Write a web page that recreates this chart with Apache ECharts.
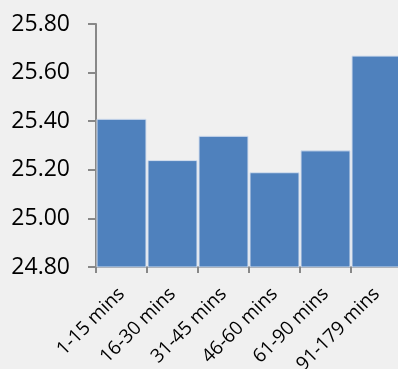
<!DOCTYPE html>
<html><head><meta charset="utf-8">
<script src="https://cdn.jsdelivr.net/npm/echarts@6/dist/echarts.min.js"></script>
<style>html,body{margin:0;padding:0;background:#f0f0f0;}#c{width:398px;height:369px;}</style>
</head><body><div id="c"></div>
<script>
var categories = ["1-15 mins","16-30 mins","31-45 mins","46-60 mins","61-90 mins","91-179 mins"];
var values = [25.41, 25.24, 25.34, 25.19, 25.28, 25.67];
var yMin = 24.8, yMax = 25.8, yStep = 0.2;

var chart = echarts.init(document.getElementById('c'), null, {renderer:'canvas'});
chart.setOption({
  backgroundColor: '#f0f0f0',
  animation: false,
  grid: {left: 96, top: 24, width: 306, height: 243, containLabel: false, outerBoundsMode: 'none'},
  xAxis: {
    type: 'category', data: categories,
    axisLine: {lineStyle: {color: '#888888', width: 2}},
    axisTick: {show: true, length: 6, lineStyle: {color: '#888888', width: 2}},
    axisLabel: {rotate: 45, margin: 24, color: '#000', fontSize: 19, fontFamily: 'Open Sans'}
  },
  yAxis: {
    type: 'value', min: yMin, max: yMax, interval: yStep,
    axisLine: {show: true, lineStyle: {color: '#888888', width: 2}},
    axisTick: {show: true, length: 8, lineStyle: {color: '#888888', width: 2}},
    splitLine: {show: false},
    axisLabel: {margin: 26, color: '#000', fontSize: 23, fontFamily: 'Open Sans',
      formatter: function(v){return v.toFixed(2);}}
  },
  series: [{
    type: 'bar', data: values, barCategoryGap: '2%',
    itemStyle: {color: '#4f81bd', borderColor: '#d3deee', borderWidth: 1}
  }]
});
</script></body></html>
